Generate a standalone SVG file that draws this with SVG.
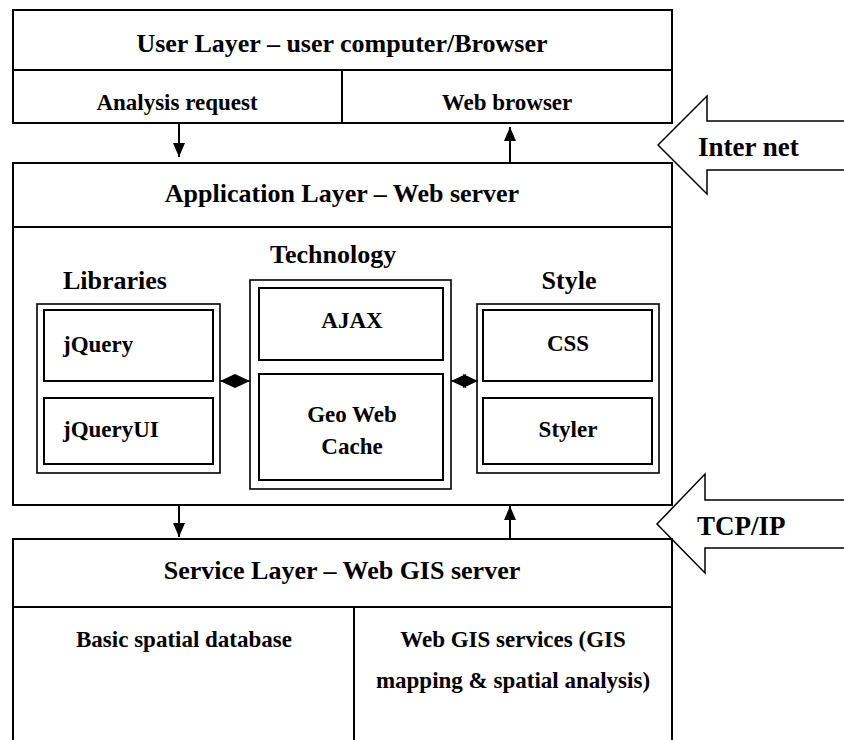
<svg xmlns="http://www.w3.org/2000/svg" width="844" height="740" viewBox="0 0 844 740">
<defs>
<style>
text{font-family:"Liberation Serif","Times New Roman",serif;font-weight:bold;fill:#000}
.box{fill:none;stroke:#000;stroke-width:2}
.outer{fill:none;stroke:#000;stroke-width:1.6}
.inner{fill:none;stroke:#000;stroke-width:2}
.line{stroke:#000;stroke-width:2;fill:none}
.thin{stroke:#000;stroke-width:1.5;fill:none}
.t26{font-size:26px}
.t23{font-size:23px}
.t27{font-size:27px}
.mid{text-anchor:middle}
</style>
<marker id="arr" viewBox="0 0 14 12" refX="14" refY="6" markerWidth="14" markerHeight="12" markerUnits="userSpaceOnUse" orient="auto">
<path d="M0,0 L14,6 L0,12 z" fill="#000"/>
</marker>
<marker id="tri" viewBox="0 0 15 14" refX="15" refY="7" markerWidth="15" markerHeight="14" markerUnits="userSpaceOnUse" orient="auto-start-reverse">
<path d="M0,0 L15,7 L0,14 z" fill="#000"/>
</marker>
</defs>
<rect width="844" height="740" fill="#fff"/>

<g id="user-layer">
<rect class="box" x="13" y="10" width="659" height="113"/>
<line class="line" x1="13" y1="70" x2="672" y2="70"/>
<line class="line" x1="342" y1="70" x2="342" y2="123"/>
<text class="t26 mid" x="342" y="52">User Layer – user computer/Browser</text>
</g>
<g id="analysis-request">
<text class="t23 mid" x="177" y="110">Analysis request</text>
</g>
<g id="web-browser">
<text class="t23 mid" x="507" y="110">Web browser</text>
</g>

<g id="application-layer">
<rect class="box" x="13" y="163" width="659" height="342"/>
<line class="line" x1="13" y1="227" x2="672" y2="227"/>
<text class="t26 mid" x="342" y="202">Application Layer – Web server</text>
</g>

<g id="libraries">
<text class="t26" x="63" y="289">Libraries</text>
<rect class="outer" x="37" y="304" width="183" height="169"/>
</g>
<g id="jquery">
<rect class="inner" x="44" y="310" width="169" height="71"/>
<text class="t23" x="63" y="352">jQuery</text>
</g>
<g id="jqueryui">
<rect class="inner" x="44" y="398" width="169" height="66"/>
<text class="t23" x="63" y="437">jQueryUI</text>
</g>

<g id="technology">
<text class="t26" x="270" y="263">Technology</text>
<rect class="outer" x="250" y="280" width="201" height="209"/>
</g>
<g id="ajax">
<rect class="inner" x="259" y="288" width="184" height="72"/>
<text class="t23 mid" x="352" y="328">AJAX</text>
</g>
<g id="geo-web-cache">
<rect class="inner" x="259" y="374" width="184" height="106"/>
<text class="t23 mid" x="352" y="422">Geo Web</text>
<text class="t23 mid" x="352" y="454">Cache</text>
</g>

<g id="style">
<text class="t26 mid" x="569" y="289">Style</text>
<rect class="outer" x="477" y="304" width="182" height="169"/>
</g>
<g id="css">
<rect class="inner" x="483" y="310" width="169" height="71"/>
<text class="t23 mid" x="568" y="351">CSS</text>
</g>
<g id="styler">
<rect class="inner" x="483" y="398" width="169" height="66"/>
<text class="t23 mid" x="568" y="437">Styler</text>
</g>

<g id="service-layer">
<path class="line" d="M13,745 V539 H672 V745"/>
<line class="line" x1="13" y1="607" x2="672" y2="607"/>
<line class="line" x1="354" y1="607" x2="354" y2="745"/>
<text class="t26 mid" x="342" y="579">Service Layer – Web GIS server</text>
</g>
<g id="basic-spatial-database">
<text class="t23 mid" x="184" y="647">Basic spatial database</text>
</g>
<g id="web-gis-services">
<text class="t23 mid" x="513" y="647">Web GIS services (GIS</text>
<text class="t23 mid" x="513" y="688">mapping &amp; spatial analysis)</text>
</g>

<g id="internet">
<path class="thin" d="M845,121 H707 V96 L658,145 L707,194 V170 H845"/>
<text class="t27" x="698" y="156">Inter net</text>
</g>
<g id="tcpip">
<path class="thin" d="M845,500 H705 V474 L657,524 L705,573 V548 H845"/>
<text class="t27" x="697" y="535">TCP/IP</text>
</g>

<g id="connectors">
<line class="line" x1="179" y1="124" x2="179" y2="157" marker-end="url(#arr)"/>
<line class="line" x1="510" y1="162" x2="510" y2="127" marker-end="url(#arr)"/>
<line class="line" x1="179" y1="506" x2="179" y2="537" marker-end="url(#arr)"/>
<line class="line" x1="510" y1="539" x2="510" y2="506" marker-end="url(#arr)"/>
<line class="thin" x1="220" y1="381" x2="250" y2="381" marker-start="url(#tri)" marker-end="url(#tri)"/>
<line class="thin" x1="451" y1="381" x2="478" y2="381" marker-start="url(#tri)" marker-end="url(#tri)"/>
</g>
</svg>
